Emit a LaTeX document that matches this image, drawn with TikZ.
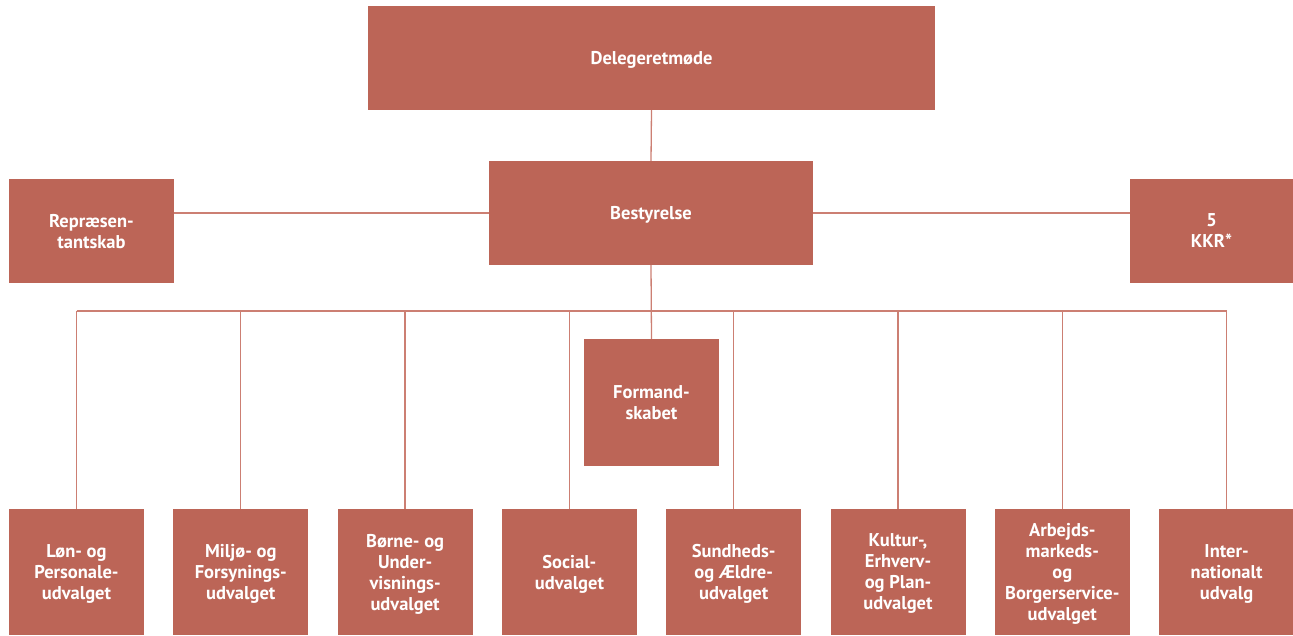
\documentclass[tikz,border=0pt]{standalone}
\usepackage{fontspec}
\setmainfont{PT Sans}
\definecolor{boxred}{HTML}{BC6557}
\definecolor{linered}{HTML}{CC7F73}
\tikzset{
  orgbox/.style={rectangle, fill=boxred, draw=none, inner sep=0pt, align=center,
    text=white, text depth=0pt, font=\bfseries\fontsize{18.5}{21}\selectfont},
  link/.style={draw=linered, line width=1.3pt}
}
\begin{document}
\begin{tikzpicture}[x=1pt, y=-1pt]
\useasboundingbox (0,0) rectangle (1293,635);
\node[orgbox, minimum width=567pt, minimum height=104pt] (del) at (651.5,58) {Delegeretmøde};
\node[orgbox, minimum width=324pt, minimum height=104pt] (best) at (651,213) {Bestyrelse};
\node[orgbox, minimum width=165pt, minimum height=104pt] (rep) at (91.5,231) {Repræsen-\\tantskab};
\node[orgbox, minimum width=163pt, minimum height=104pt] (kkr) at (1211.5,231) {5\\KKR*};
\node[orgbox, minimum width=135pt, minimum height=127pt] (form) at (651.5,402.5) {Formand-\\skabet};
\tikzset{bot/.style={orgbox, minimum width=135pt, minimum height=126pt}}
\node[bot] (b1) at (76.5,572) {Løn- og\\Personale-\\udvalget};
\node[bot] (b2) at (240.8,572) {Miljø- og\\Forsynings-\\udvalget};
\node[bot] (b3) at (405.1,572) {Børne- og\\Under-\\visnings-\\udvalget};
\node[bot] (b4) at (569.4,572) {Social-\\udvalget};
\node[bot] (b5) at (733.7,572) {Sundheds-\\og Ældre-\\udvalget};
\node[bot] (b6) at (898,572) {Kultur-,\\Erhverv-\\og Plan-\\udvalget};
\node[bot] (b7) at (1062.3,572) {Arbejds-\\markeds-\\og\\Borgerservice-\\udvalget};
\node[bot] (b8) at (1226.6,572) {Inter-\\nationalt\\udvalg};
\coordinate (bus) at (651,311);
\draw[link] (del.south) -- (best.north);
\draw[link] (best.west) -- (rep.east |- best.west);
\draw[link] (best.east) -- (kkr.west |- best.east);
\draw[link] (best.south) -- (form.north);
\draw[link] (b1.north |- bus) -- (b8.north |- bus);
\foreach \b in {b1,b2,b3,b4,b5,b6,b7,b8} {
  \draw[link] (\b.north) -- (\b.north |- bus);
}
\end{tikzpicture}
\end{document}
